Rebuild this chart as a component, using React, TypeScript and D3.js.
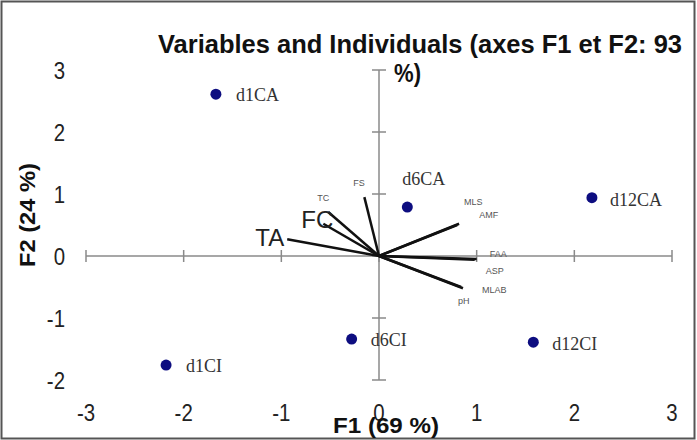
import React from "react";
import * as d3 from "d3";

// individuals (observations)
const indNames = ["d1CA", "d6CA", "d12CA", "d1CI", "d6CI", "d12CI"];
const indF1 = [-1.67, 0.29, 2.18, -2.18, -0.28, 1.58];
const indF2 = [2.61, 0.79, 0.94, -1.76, -1.34, -1.39];

// variables (loadings)
const varNames = ["TA", "FC", "TC", "FS", "MLS", "AMF", "FAA", "ASP", "pH", "MLAB"];
const varF1 = [-0.94, -0.57, -0.52, -0.15, 0.82, 0.8, 1.0, 0.98, 0.86, 0.84];
const varF2 = [0.27, 0.52, 0.71, 0.95, 0.52, 0.5, -0.05, -0.06, -0.52, -0.5];

const xTicks = [-3, -2, -1, 0, 1, 2, 3];
const yTicks = [-2, -1, 0, 1, 2, 3];

const W = 697;
const H = 440;

// label placement for variable names: [dx, dy, fontSize, anchor]
const varLabelStyle: Record<string, [number, number, number, string]> = {
  TA: [-3, 7, 24, "end"],
  FC: [-22, 4, 24, "start"],
  TC: [-11, -11, 9, "start"],
  FS: [-11, -11, 9, "start"],
  MLS: [5, -19, 9, "start"],
  AMF: [22, -7, 9, "start"],
  FAA: [13, -2, 9, "start"],
  ASP: [11, 14, 9, "start"],
  pH: [-5, 16, 9, "start"],
  MLAB: [21, 6, 9, "start"],
};

// label placement for individuals: [dx, dy]
const indLabelStyle: Record<string, [number, number]> = {
  d1CA: [20, 7],
  d6CA: [-5, -22],
  d12CA: [18, 8],
  d1CI: [20, 7],
  d6CI: [19, 7],
  d12CI: [19, 8],
};

const App = () => {
  const x = d3.scaleLinear().domain([-3, 3]).range([86, 672]);
  const y = d3.scaleLinear().domain([-2, 3]).range([380, 70]);
  const axisColor = "#8a8a8a";
  const sans = "'Liberation Sans', Arial, sans-serif";
  const serif = "'Liberation Serif', 'Times New Roman', serif";
  const squeeze = 0.85;

  return (
    <svg
      width={W}
      height={H}
      style={{ position: "absolute", left: 0, top: 0, background: "#fff" }}
    >
      <rect x={1.5} y={1.5} width={W - 4} height={H - 3} fill="#fff" stroke="#555" strokeWidth={2} />

      {/* title */}
      <text
        x={158}
        y={53}
        fontFamily={sans}
        fontWeight="bold"
        fontSize={25}
        textLength={524}
        lengthAdjust="spacingAndGlyphs"
        fill="#111"
      >
        Variables and Individuals (axes F1 et F2: 93
      </text>
      <text x={394} y={82} fontFamily={sans} fontWeight="bold" fontSize={25} textLength={27} lengthAdjust="spacingAndGlyphs" fill="#111">
        %)
      </text>

      {/* horizontal axis */}
      <line x1={x(-3)} x2={x(3)} y1={y(0)} y2={y(0)} stroke={axisColor} strokeWidth={1.5} />
      {xTicks.map((t) => (
        <line key={"xt" + t} x1={x(t)} x2={x(t)} y1={y(0) - 6} y2={y(0) + 6} stroke={axisColor} strokeWidth={1.5} />
      ))}
      {/* vertical axis */}
      <line x1={x(0)} x2={x(0)} y1={y(3)} y2={y(-2)} stroke={axisColor} strokeWidth={1.5} />
      {yTicks.map((t) => (
        <line key={"yt" + t} x1={x(0) - 7} x2={x(0) + 7} y1={y(t)} y2={y(t)} stroke={axisColor} strokeWidth={1.5} />
      ))}

      {/* tick labels */}
      {xTicks.map((t) => (
        <text
          key={"xl" + t}
          transform={`translate(${x(t)},421) scale(${squeeze},1)`}
          textAnchor="middle"
          fontFamily={sans}
          fontSize={24}
          fill="#222"
        >
          {t}
        </text>
      ))}
      {yTicks.map((t) => (
        <text
          key={"yl" + t}
          transform={`translate(65,${y(t) + 9}) scale(${squeeze},1)`}
          textAnchor="end"
          fontFamily={sans}
          fontSize={24}
          fill="#222"
        >
          {t}
        </text>
      ))}

      {/* axis titles */}
      <text
        x={386}
        y={433}
        textAnchor="middle"
        fontFamily={sans}
        fontWeight="bold"
        fontSize={22}
        textLength={106}
        lengthAdjust="spacingAndGlyphs"
        fill="#111"
      >
        F1 (69 %)
      </text>
      <text
        transform={`translate(35,${215}) rotate(-90)`}
        textAnchor="middle"
        fontFamily={sans}
        fontWeight="bold"
        fontSize={22}
        textLength={104}
        lengthAdjust="spacingAndGlyphs"
        fill="#111"
      >
        F2 (24 %)
      </text>

      {/* variable vectors */}
      {varNames.map((n, i) => (
        <line
          key={"v" + n}
          x1={x(0)}
          y1={y(0)}
          x2={x(varF1[i])}
          y2={y(varF2[i])}
          stroke="#111"
          strokeWidth={2.5}
        />
      ))}
      {varNames.map((n, i) => {
        const [dx, dy, fs, anchor] = varLabelStyle[n];
        return (
          <text
            key={"vl" + n}
            x={x(varF1[i]) + dx}
            y={y(varF2[i]) + dy}
            textAnchor={anchor}
            fontFamily={sans}
            fontSize={fs}
            fill={fs > 12 ? "#222" : "#555"}
          >
            {n}
          </text>
        );
      })}

      {/* individuals */}
      {indNames.map((n, i) => (
        <circle key={"p" + n} cx={x(indF1[i])} cy={y(indF2[i])} r={5.5} fill="#0d0d80" />
      ))}
      {indNames.map((n, i) => {
        const [dx, dy] = indLabelStyle[n];
        return (
          <text
            key={"pl" + n}
            x={x(indF1[i]) + dx}
            y={y(indF2[i]) + dy}
            fontFamily={serif}
            fontSize={18}
            fill="#333"
          >
            {n}
          </text>
        );
      })}
    </svg>
  );
};

export default App;
